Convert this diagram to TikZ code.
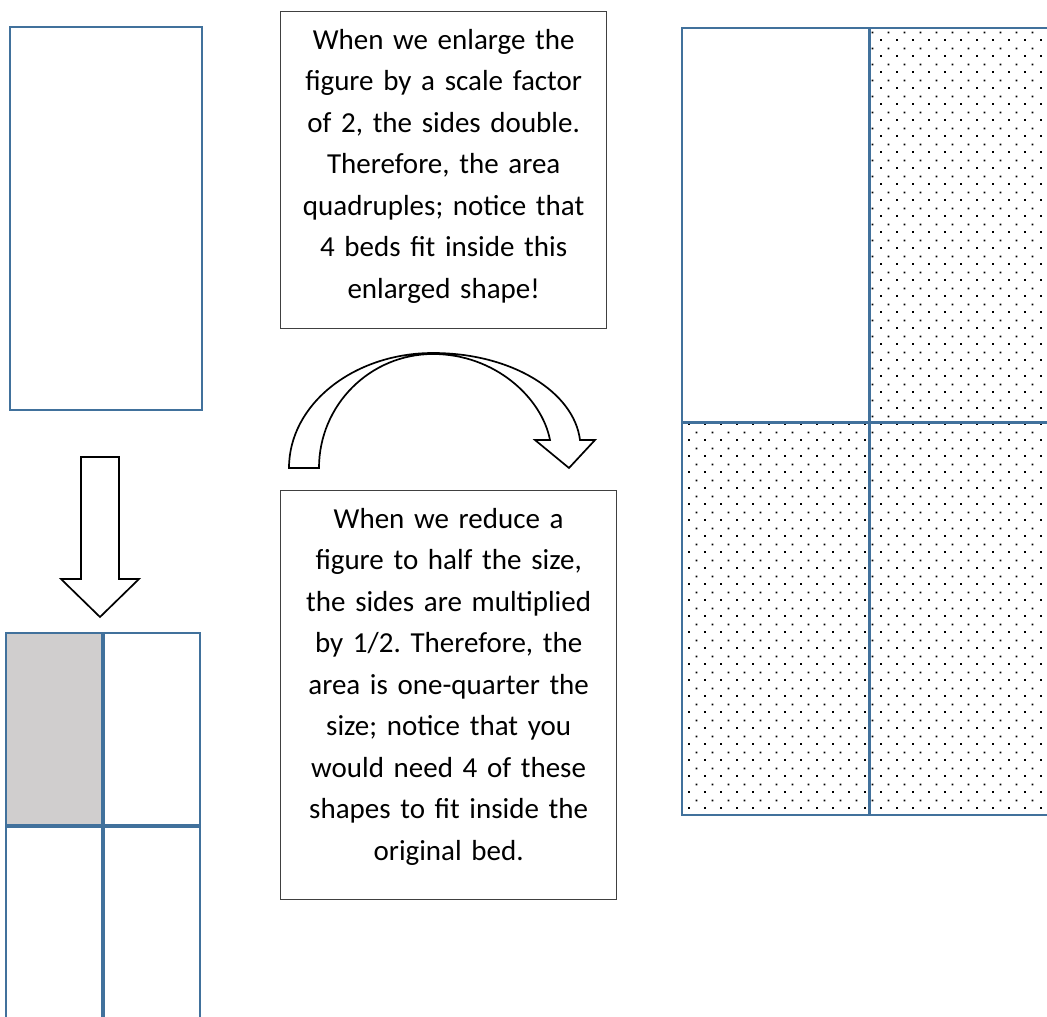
\documentclass[tikz,border=0pt]{standalone}
\usepackage{fontspec}
\setmainfont{Carlito}
\usepackage{tikz}
\usetikzlibrary{patterns,positioning}
\usepackage{color}
\frenchspacing

\definecolor{bedblue}{RGB}{65,113,156}
\definecolor{bedgray}{RGB}{208,206,206}
\definecolor{boxline}{RGB}{64,64,64}

% staggered dots for the enlarged beds
\pgfdeclarepatternformonly{beddots}{\pgfqpoint{0pt}{0pt}}{\pgfqpoint{16pt}{16pt}}{\pgfqpoint{16pt}{16pt}}{%
  \pgfpathrectangle{\pgfqpoint{0pt}{0pt}}{\pgfqpoint{2pt}{2pt}}%
  \pgfpathrectangle{\pgfqpoint{8pt}{8pt}}{\pgfqpoint{2pt}{2pt}}%
  \pgfusepath{fill}}

\tikzset{
  bedcell/.style={draw=bedblue, line width=2.5pt, inner sep=0pt, outer sep=0pt},
  smallcell/.style={bedcell, minimum width=97pt, minimum height=193pt},
  bigcell/.style={bedcell, minimum width=187pt, minimum height=394pt},
  midline/.style={draw=bedblue, line width=3.8pt},
  blockarrow/.style={draw=black, line width=1.7pt, fill=white, line join=miter},
  notebox/.style={draw=boxline, line width=1.3pt, inner sep=0pt, anchor=north west},
  notetext/.style={font=\fontsize{29}{41.5}\selectfont, align=center, text width=320pt, inner sep=0pt, anchor=north},
}

\begin{document}
\begin{tikzpicture}[x=1pt,y=-1pt]
\useasboundingbox (0,0) rectangle (1047,1017);
\clip (0,0) rectangle (1047,1017);

% original bed
\node[bedcell, minimum width=192pt, minimum height=383pt, anchor=north west] (bed) at (10,27) {};

% down arrow
\draw[blockarrow] (81,457) -- (119,457) -- (119,579) -- (139,579) -- (100,617) -- (61,579) -- (81,579) -- cycle;

% reduced beds, first one shaded
\node[smallcell, fill=bedgray, anchor=north west] (sA) at (6,633) {};
\node[smallcell, right=0pt of sA] (sB) {};
\node[smallcell, below=0pt of sA] (sC) {};
\node[smallcell, below=0pt of sB] (sD) {};
\draw[midline] (sA.north east) -- (sC.south east);
\draw[midline] (sA.south west) -- (sB.south east);

% enlarged beds
\node[bigcell, anchor=north west] (bA) at (682,28) {};
\node[bigcell, pattern=beddots, right=0pt of bA] (bB) {};
\node[bigcell, pattern=beddots, below=0pt of bA, minimum height=393pt] (bC) {};
\node[bigcell, pattern=beddots, below=0pt of bB, minimum height=393pt] (bD) {};
\draw[bedcell, line width=3pt] (bA.north east) -- (bC.south east);
\draw[bedcell, line width=3pt] (bA.south west) -- (bB.south east);

% enlarge note
\node[notebox, minimum width=326pt, minimum height=317pt] (enlargebox) at (280,11) {};
\node[notetext, below=9pt of enlargebox.north] (enlargetext) {\strut When we enlarge the\\ figure by a scale factor\\ of 2, the sides double.\\ Therefore, the area\\ quadruples; notice that\\ 4 beds fit inside this\\ enlarged shape!};

% curved arrow
\draw[blockarrow] (319,468) -- (289,468) .. controls (289,404) and (354,353) .. (433,353)
  .. controls (512,353) and (574,392) .. (580,440) -- (595,440) -- (569,468) -- (535,440) -- (550,440)
  .. controls (542,398) and (495,354) .. (433,354) .. controls (370,354) and (319,405) .. (319,468) -- cycle;

% reduce note
\node[notebox, minimum width=336pt, minimum height=409pt] (reducebox) at (280,490) {};
\node[notetext, below=9pt of reducebox.north] (reducetext) {\strut When we reduce a\\ figure to half the size,\\ the sides are multiplied\\ by 1/2. Therefore, the\\ area is one-quarter the\\ size; notice that you\\ would need 4 of these\\ shapes to fit inside the\\ original bed.};

\end{tikzpicture}
\end{document}
